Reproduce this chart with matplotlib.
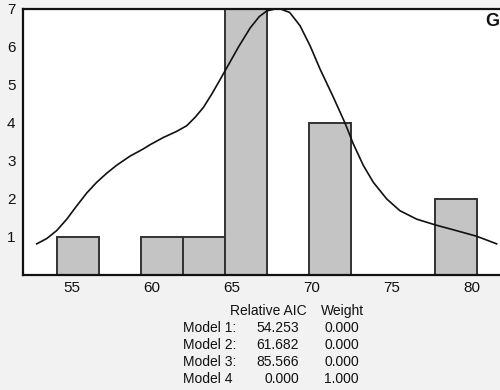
import numpy as np
import matplotlib
matplotlib.use("Agg")
import matplotlib.pyplot as plt

plt.rcParams['font.family'] = ['Liberation Sans', 'DejaVu Sans']

# Histogram: bin edges and counts
bin_start = 54.03
bin_width = 2.628
counts = [1, 0, 1, 1, 7, 0, 4, 0, 0, 2]

# Density curve (scaled to counts)
curve_x = [52.79, 53.42, 54.04, 54.67, 55.29, 55.92, 56.54, 57.17, 57.79, 58.63,
           59.46, 59.88, 60.71, 61.54, 62.17, 62.69, 63.21, 63.73, 64.25, 64.80,
           65.40, 66.13, 66.70, 67.17, 67.90, 68.60, 69.25, 69.88, 70.50, 71.33,
           72.06, 72.58, 73.21, 73.83, 74.67, 75.50, 76.54, 77.69, 78.83, 80.29,
           81.54]
curve_y = [0.82, 0.96, 1.17, 1.47, 1.82, 2.16, 2.44, 2.68, 2.89, 3.13,
           3.32, 3.43, 3.62, 3.78, 3.93, 4.15, 4.41, 4.76, 5.14, 5.55,
           6.00, 6.50, 6.80, 6.95, 7.02, 6.91, 6.56, 6.03, 5.42, 4.68,
           4.00, 3.45, 2.88, 2.44, 2.00, 1.69, 1.47, 1.32, 1.19, 1.02,
           0.82]

x_ticks = [55, 60, 65, 70, 75, 80]
y_ticks = [1, 2, 3, 4, 5, 6, 7]

# Model comparison table
models = ["Model 1:", "Model 2:", "Model 3:", "Model 4"]
rel_aic = ["54.253", "61.682", "85.566", "0.000"]
weights = ["0.000", "0.000", "0.000", "1.000"]

W, H = 500, 390
fig = plt.figure(figsize=(W / 100, H / 100), dpi=100, facecolor='#f2f2f2')
ax = fig.add_axes([22.5 / W, 1 - 275 / H, (512 - 22.5) / W, (275 - 9) / H])
ax.set_facecolor('white')

edges = bin_start + bin_width * np.arange(len(counts) + 1)
ax.bar(edges[:-1], counts, width=bin_width, align='edge',
       color='#c4c4c4', edgecolor='#333333', linewidth=1.4, zorder=2)
ax.plot(curve_x, curve_y, color='#111111', linewidth=1.2, zorder=3,
        solid_joinstyle='round')

ax.set_xlim(51.9, 55 + (512 - 72) / 16)
ax.set_ylim(0, 7)
ax.set_xticks(x_ticks)
ax.set_yticks(y_ticks)
ax.tick_params(axis='both', length=0, labelsize=11, colors='#111111')
ax.tick_params(axis='x', pad=4)
ax.tick_params(axis='y', pad=5)
for s in ['left', 'bottom', 'top']:
    ax.spines[s].set_linewidth(1.6)
    ax.spines[s].set_color('#111111')
ax.spines['right'].set_visible(False)

fig.text(485 / W, 1 - 22 / H, "G", fontsize=13, fontweight='bold',
         ha='left', va='center', color='#111111')

def fy(py):
    return 1 - py / H

fs = 10
fig.text(230 / W, fy(311), "Relative AIC", fontsize=fs, ha='left', va='center', color='#111111')
fig.text(321 / W, fy(311), "Weight", fontsize=fs, ha='left', va='center', color='#111111')
for i, (m, a, w) in enumerate(zip(models, rel_aic, weights)):
    y = fy(328 + 17 * i)
    fig.text(183 / W, y, m, fontsize=fs, ha='left', va='center', color='#111111')
    fig.text(299 / W, y, a, fontsize=fs, ha='right', va='center', color='#111111')
    fig.text(359 / W, y, w, fontsize=fs, ha='right', va='center', color='#111111')

fig.savefig("out.png", dpi=100, facecolor=fig.get_facecolor())
